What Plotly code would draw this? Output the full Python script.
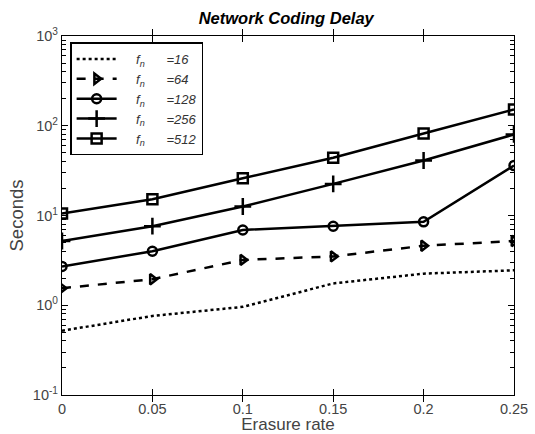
import plotly.graph_objects as go

erasure_rate = [0, 0.05, 0.1, 0.15, 0.2, 0.25]
fn_labels = ["16", "64", "128", "256", "512"]
delay_16 = [0.52, 0.76, 0.96, 1.75, 2.25, 2.45]
delay_64 = [1.55, 1.95, 3.2, 3.5, 4.6, 5.2]
delay_128 = [2.7, 4.0, 6.9, 7.6, 8.5, 36]
delay_256 = [5.2, 7.6, 12.6, 22.5, 41, 80]
delay_512 = [10.5, 15.2, 26, 44, 82, 152]
y_tick_vals = [0.1, 1, 10, 100, 1000]
y_tick_text = ["10<sup>-1</sup>", "10<sup>0</sup>", "10<sup>1</sup>", "10<sup>2</sup>", "10<sup>3</sup>"]
x_tick_vals = [0, 0.05, 0.1, 0.15, 0.2, 0.25]
x_tick_text = ["0", "0.05", "0.1", "0.15", "0.2", "0.25"]

series = [delay_16, delay_64, delay_128, delay_256, delay_512]
styles = [
    dict(dash="dot", symbol=None, width=2.5),
    dict(dash="dash", symbol="triangle-right-open", width=2.5, size=9),
    dict(dash="solid", symbol="circle-open", width=2.5, size=9),
    dict(dash="solid", symbol="cross-thin-open", width=2.5, size=12),
    dict(dash="solid", symbol="square-open", width=2.5, size=10),
]

fig = go.Figure()
for lab, vals, st in zip(fn_labels, series, styles):
    name = "\u00a0\u00a0\u00a0\u00a0<i>f<sub>n</sub></i>\u00a0\u00a0\u00a0\u00a0\u00a0\u00a0<i>=" + lab + "</i>"
    if st["symbol"] is None:
        fig.add_trace(go.Scatter(x=erasure_rate, y=vals, mode="lines", name=name,
                                 line=dict(color="black", width=st["width"], dash=st["dash"])))
    else:
        fig.add_trace(go.Scatter(x=erasure_rate, y=vals, mode="lines+markers", name=name,
                                 line=dict(color="black", width=st["width"], dash=st["dash"]),
                                 marker=dict(symbol=st["symbol"], size=st["size"], color="black",
                                             line=dict(color="black", width=2.5))))

# invisible helper trace so the minor-tick axis is drawn
fig.add_trace(go.Scatter(x=[erasure_rate[0]], y=[y_tick_vals[0]], yaxis="y2", mode="markers",
                         marker=dict(opacity=0), showlegend=False, hoverinfo="skip"))

minor_vals = []
for dec in y_tick_vals[:-1]:
    for k in range(2, 10):
        minor_vals.append(dec * k)

fig.update_layout(
    width=535, height=434,
    margin=dict(l=62, r=21, t=36, b=39),
    paper_bgcolor="white", plot_bgcolor="white",
    font=dict(family="Liberation Sans, Arial, sans-serif", color="#444444", size=14),
    title=dict(text="<b><i>Network Coding Delay</i></b>", x=0.535, xanchor="center", y=0.972, yanchor="top",
               font=dict(size=16.5, color="black")),
    showlegend=True,
    legend=dict(x=0.018, y=0.982, xanchor="left", yanchor="top", bgcolor="white",
                bordercolor="black", borderwidth=1.5,
                font=dict(size=13, color="#333333"), itemwidth=40, tracegroupgap=0),
    xaxis=dict(range=[0, 0.25], tickvals=x_tick_vals, ticktext=x_tick_text, automargin=False,
               ticks="inside", ticklen=6, tickwidth=1.2, tickcolor="black", showgrid=False, zeroline=False,
               showline=True, linecolor="black", linewidth=1.2, mirror="allticks",
               title=dict(text="Erasure rate", standoff=3, font=dict(size=17, color="#444444")),
               tickfont=dict(size=14.5)),
    yaxis=dict(type="log", range=[-1, 3], tickvals=y_tick_vals, ticktext=y_tick_text, automargin=False,
               ticks="inside", ticklen=6, tickwidth=1.2, tickcolor="black", showgrid=False, zeroline=False,
               showline=True, linecolor="black", linewidth=1.2, mirror="allticks",
               title=dict(text="Seconds", standoff=4, font=dict(size=18.5, color="#444444")),
               tickfont=dict(size=14.5)),
    yaxis2=dict(type="log", range=[-1, 3], overlaying="y", anchor="x", side="left", automargin=False,
                tickvals=minor_vals, ticktext=[""] * len(minor_vals), showticklabels=False,
                ticks="inside", ticklen=4, tickwidth=1.2, tickcolor="black", showgrid=False, zeroline=False,
                showline=True, linecolor="black", linewidth=1.2, mirror="allticks"),
)

fig.write_html("out.html")
